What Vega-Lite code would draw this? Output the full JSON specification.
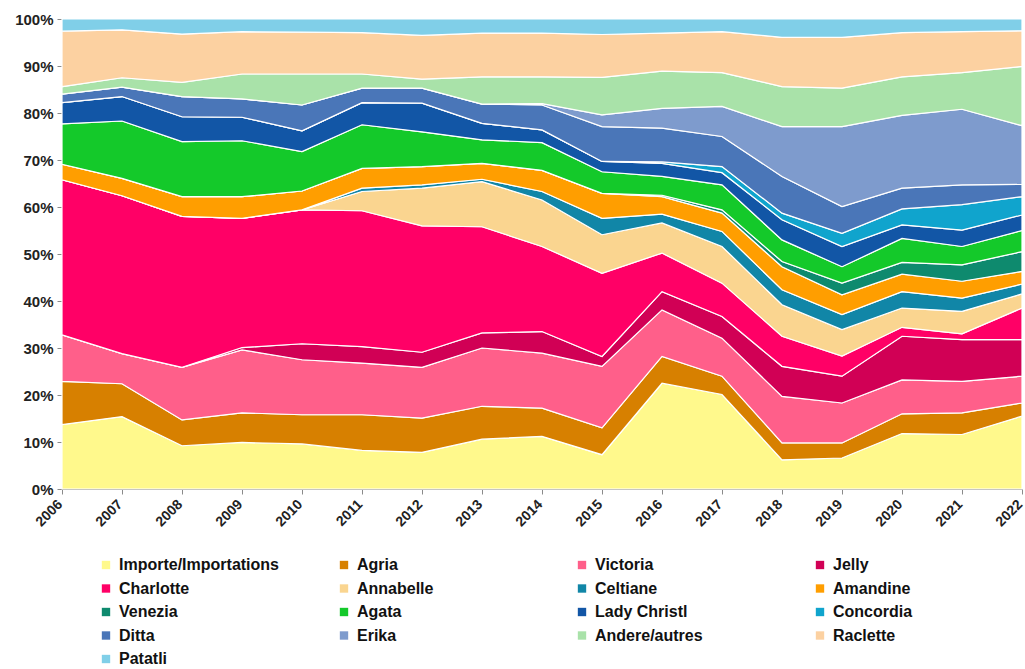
{
  "$schema": "https://vega.github.io/schema/vega-lite/v6.json",
  "width": 960,
  "height": 470,
  "autosize": {"type": "none"},
  "padding": {"left": 62, "top": 19, "right": 3, "bottom": 180},
  "background": "white",
  "datasets": {
    "ranks": [
      {"variety": "Importe/Importations", "k": 1},
      {"variety": "Agria", "k": 2},
      {"variety": "Victoria", "k": 3},
      {"variety": "Jelly", "k": 4},
      {"variety": "Charlotte", "k": 5},
      {"variety": "Annabelle", "k": 6},
      {"variety": "Celtiane", "k": 7},
      {"variety": "Amandine", "k": 8},
      {"variety": "Venezia", "k": 9},
      {"variety": "Agata", "k": 10},
      {"variety": "Lady Christl", "k": 11},
      {"variety": "Concordia", "k": 12},
      {"variety": "Ditta", "k": 13},
      {"variety": "Erika", "k": 14},
      {"variety": "Andere/autres", "k": 15},
      {"variety": "Raclette", "k": 16},
      {"variety": "Patatli", "k": 17}
    ],
    "shares": [
      {"year": 2006, "Importe/Importations": 13.7, "Agria": 9.2, "Victoria": 9.9, "Jelly": 0, "Charlotte": 33.0, "Annabelle": 0, "Celtiane": 0, "Amandine": 3.3, "Venezia": 0, "Agata": 8.6, "Lady Christl": 4.5, "Concordia": 0, "Ditta": 1.8, "Erika": 0, "Andere/autres": 1.6, "Raclette": 11.8, "Patatli": 2.6},
      {"year": 2007, "Importe/Importations": 15.4, "Agria": 7.0, "Victoria": 6.4, "Jelly": 0, "Charlotte": 33.6, "Annabelle": 0, "Celtiane": 0, "Amandine": 3.7, "Venezia": 0, "Agata": 12.2, "Lady Christl": 5.2, "Concordia": 0, "Ditta": 2.0, "Erika": 0, "Andere/autres": 2.0, "Raclette": 10.2, "Patatli": 2.3},
      {"year": 2008, "Importe/Importations": 9.2, "Agria": 5.5, "Victoria": 11.2, "Jelly": 0, "Charlotte": 32.1, "Annabelle": 0, "Celtiane": 0, "Amandine": 4.2, "Venezia": 0, "Agata": 11.7, "Lady Christl": 5.3, "Concordia": 0, "Ditta": 4.3, "Erika": 0, "Andere/autres": 3.0, "Raclette": 10.3, "Patatli": 3.2},
      {"year": 2009, "Importe/Importations": 9.9, "Agria": 6.3, "Victoria": 13.4, "Jelly": 0.5, "Charlotte": 27.5, "Annabelle": 0, "Celtiane": 0, "Amandine": 4.6, "Venezia": 0, "Agata": 11.9, "Lady Christl": 5.0, "Concordia": 0, "Ditta": 3.9, "Erika": 0, "Andere/autres": 5.3, "Raclette": 9.0, "Patatli": 2.7},
      {"year": 2010, "Importe/Importations": 9.6, "Agria": 6.2, "Victoria": 11.7, "Jelly": 3.4, "Charlotte": 28.5, "Annabelle": 0, "Celtiane": 0, "Amandine": 4.0, "Venezia": 0, "Agata": 8.4, "Lady Christl": 4.4, "Concordia": 0, "Ditta": 5.5, "Erika": 0, "Andere/autres": 6.6, "Raclette": 8.9, "Patatli": 2.8},
      {"year": 2011, "Importe/Importations": 8.2, "Agria": 7.6, "Victoria": 11.0, "Jelly": 3.5, "Charlotte": 28.9, "Annabelle": 4.1, "Celtiane": 0.7, "Amandine": 4.2, "Venezia": 0, "Agata": 9.3, "Lady Christl": 4.7, "Concordia": 0, "Ditta": 3.1, "Erika": 0, "Andere/autres": 3.0, "Raclette": 8.8, "Patatli": 2.9},
      {"year": 2012, "Importe/Importations": 7.8, "Agria": 7.3, "Victoria": 10.8, "Jelly": 3.2, "Charlotte": 26.9, "Annabelle": 8.0, "Celtiane": 0.7, "Amandine": 3.9, "Venezia": 0, "Agata": 7.4, "Lady Christl": 6.1, "Concordia": 0, "Ditta": 3.2, "Erika": 0, "Andere/autres": 1.9, "Raclette": 9.3, "Patatli": 3.5},
      {"year": 2013, "Importe/Importations": 10.6, "Agria": 7.0, "Victoria": 12.4, "Jelly": 3.2, "Charlotte": 22.6, "Annabelle": 9.6, "Celtiane": 0.5, "Amandine": 3.4, "Venezia": 0, "Agata": 5.0, "Lady Christl": 3.5, "Concordia": 0, "Ditta": 4.1, "Erika": 0, "Andere/autres": 5.8, "Raclette": 9.3, "Patatli": 3.0},
      {"year": 2014, "Importe/Importations": 11.2, "Agria": 6.0, "Victoria": 11.7, "Jelly": 4.6, "Charlotte": 18.1, "Annabelle": 9.9, "Celtiane": 1.8, "Amandine": 4.5, "Venezia": 0, "Agata": 5.9, "Lady Christl": 2.7, "Concordia": 0, "Ditta": 5.3, "Erika": 0.3, "Andere/autres": 5.7, "Raclette": 9.3, "Patatli": 3.0},
      {"year": 2015, "Importe/Importations": 7.3, "Agria": 5.7, "Victoria": 13.1, "Jelly": 2.1, "Charlotte": 17.7, "Annabelle": 8.2, "Celtiane": 3.5, "Amandine": 5.3, "Venezia": 0, "Agata": 4.6, "Lady Christl": 2.2, "Concordia": 0, "Ditta": 7.4, "Erika": 2.5, "Andere/autres": 8.0, "Raclette": 9.1, "Patatli": 3.3},
      {"year": 2016, "Importe/Importations": 22.5, "Agria": 5.7, "Victoria": 9.9, "Jelly": 3.9, "Charlotte": 8.2, "Annabelle": 6.4, "Celtiane": 1.9, "Amandine": 3.7, "Venezia": 0.3, "Agata": 4.0, "Lady Christl": 2.8, "Concordia": 0.3, "Ditta": 7.2, "Erika": 4.2, "Andere/autres": 7.9, "Raclette": 8.1, "Patatli": 3.0},
      {"year": 2017, "Importe/Importations": 20.1, "Agria": 3.9, "Victoria": 8.1, "Jelly": 4.6, "Charlotte": 7.1, "Annabelle": 7.8, "Celtiane": 3.2, "Amandine": 3.9, "Venezia": 0.7, "Agata": 5.3, "Lady Christl": 2.6, "Concordia": 1.3, "Ditta": 6.4, "Erika": 6.4, "Andere/autres": 7.2, "Raclette": 8.7, "Patatli": 2.7},
      {"year": 2018, "Importe/Importations": 6.2, "Agria": 3.6, "Victoria": 9.9, "Jelly": 6.4, "Charlotte": 6.4, "Annabelle": 6.7, "Celtiane": 3.2, "Amandine": 4.9, "Venezia": 1.1, "Agata": 4.6, "Lady Christl": 4.3, "Concordia": 1.4, "Ditta": 7.8, "Erika": 10.6, "Andere/autres": 8.5, "Raclette": 10.5, "Patatli": 3.9},
      {"year": 2019, "Importe/Importations": 6.6, "Agria": 3.2, "Victoria": 8.5, "Jelly": 5.7, "Charlotte": 4.3, "Annabelle": 5.6, "Celtiane": 3.2, "Amandine": 4.2, "Venezia": 2.5, "Agata": 3.5, "Lady Christl": 4.3, "Concordia": 2.8, "Ditta": 5.7, "Erika": 17.0, "Andere/autres": 8.2, "Raclette": 10.8, "Patatli": 3.9},
      {"year": 2020, "Importe/Importations": 11.8, "Agria": 4.2, "Victoria": 7.2, "Jelly": 9.3, "Charlotte": 1.9, "Annabelle": 4.1, "Celtiane": 3.5, "Amandine": 3.7, "Venezia": 2.5, "Agata": 5.1, "Lady Christl": 2.9, "Concordia": 3.4, "Ditta": 4.4, "Erika": 15.5, "Andere/autres": 8.2, "Raclette": 9.4, "Patatli": 2.9},
      {"year": 2021, "Importe/Importations": 11.6, "Agria": 4.6, "Victoria": 6.7, "Jelly": 8.9, "Charlotte": 1.2, "Annabelle": 4.8, "Celtiane": 2.8, "Amandine": 3.6, "Venezia": 3.5, "Agata": 3.9, "Lady Christl": 3.5, "Concordia": 5.4, "Ditta": 4.2, "Erika": 16.1, "Andere/autres": 7.8, "Raclette": 8.7, "Patatli": 2.7},
      {"year": 2022, "Importe/Importations": 15.5, "Agria": 2.8, "Victoria": 5.7, "Jelly": 7.8, "Charlotte": 6.7, "Annabelle": 3.0, "Celtiane": 2.1, "Amandine": 2.7, "Venezia": 4.2, "Agata": 4.5, "Lady Christl": 3.3, "Concordia": 3.9, "Ditta": 2.6, "Erika": 12.5, "Andere/autres": 12.6, "Raclette": 7.6, "Patatli": 2.5}
    ]
  },
  "data": {"name": "shares"},
  "transform": [
    {"fold": ["Importe/Importations", "Agria", "Victoria", "Jelly", "Charlotte", "Annabelle", "Celtiane", "Amandine", "Venezia", "Agata", "Lady Christl", "Concordia", "Ditta", "Erika", "Andere/autres", "Raclette", "Patatli"], "as": ["variety", "share"]},
    {"lookup": "variety", "from": {"data": {"name": "ranks"}, "key": "variety", "fields": ["k"]}}
  ],
  "mark": {"type": "area", "stroke": "white", "strokeWidth": 1.2, "interpolate": "linear"},
  "encoding": {
    "x": {
      "field": "year", "type": "quantitative",
      "scale": {"domain": [2006, 2022], "nice": false, "zero": false},
      "axis": {
        "title": null, "grid": false,
        "values": [2006, 2007, 2008, 2009, 2010, 2011, 2012, 2013, 2014, 2015, 2016, 2017, 2018, 2019, 2020, 2021, 2022],
        "format": "d", "labelAngle": -45, "labelAlign": "right", "labelBaseline": "top",
        "labelFontSize": 14, "labelFontWeight": "bold", "labelColor": "#222",
        "labelOffset": -7, "labelBound": false, "labelFlush": false,
        "domainColor": "#8a8a8a", "tickColor": "#8a8a8a", "tickSize": 5, "labelPadding": 3, "labelOverlap": false
      }
    },
    "y": {
      "field": "share", "type": "quantitative", "stack": "zero",
      "scale": {"domain": [0, 100], "nice": false},
      "axis": {
        "title": null, "grid": false,
        "values": [0, 10, 20, 30, 40, 50, 60, 70, 80, 90, 100],
        "labelExpr": "datum.value + '%'",
        "labelFontSize": 15, "labelFontWeight": "bold", "labelColor": "#222",
        "domainColor": "#8a8a8a", "tickColor": "#8a8a8a", "tickSize": 5, "labelPadding": 4
      }
    },
    "color": {
      "field": "variety", "type": "nominal",
      "scale": {
        "domain": ["Importe/Importations", "Agria", "Victoria", "Jelly", "Charlotte", "Annabelle", "Celtiane", "Amandine", "Venezia", "Agata", "Lady Christl", "Concordia", "Ditta", "Erika", "Andere/autres", "Raclette", "Patatli"],
        "range": ["#FFF98C", "#D78000", "#FF5F8A", "#D10055", "#FF0066", "#FAD590", "#1186A7", "#FF9E00", "#0E8A6E", "#14C92A", "#1256A6", "#10A4CD", "#4A76B8", "#7E9BCD", "#A9E2A9", "#FCD1A1", "#80CFE8"]
      },
      "legend": {
        "title": null, "orient": "none", "legendX": 36, "legendY": 538,
        "columns": 4, "direction": "horizontal", "gridAlign": "all",
        "columnPadding": 56, "rowPadding": 7.5, "padding": 0,
        "symbolType": "square", "symbolSize": 70, "symbolStrokeWidth": 0,
        "labelFontSize": 16, "labelFontWeight": "bold", "labelColor": "#111", "labelOffset": 5, "labelLimit": 300
      }
    },
    "order": {"field": "k", "type": "quantitative"}
  },
  "config": {
    "view": {"stroke": null},
    "font": "Liberation Sans Narrow, Liberation Sans, sans-serif"
  }
}
